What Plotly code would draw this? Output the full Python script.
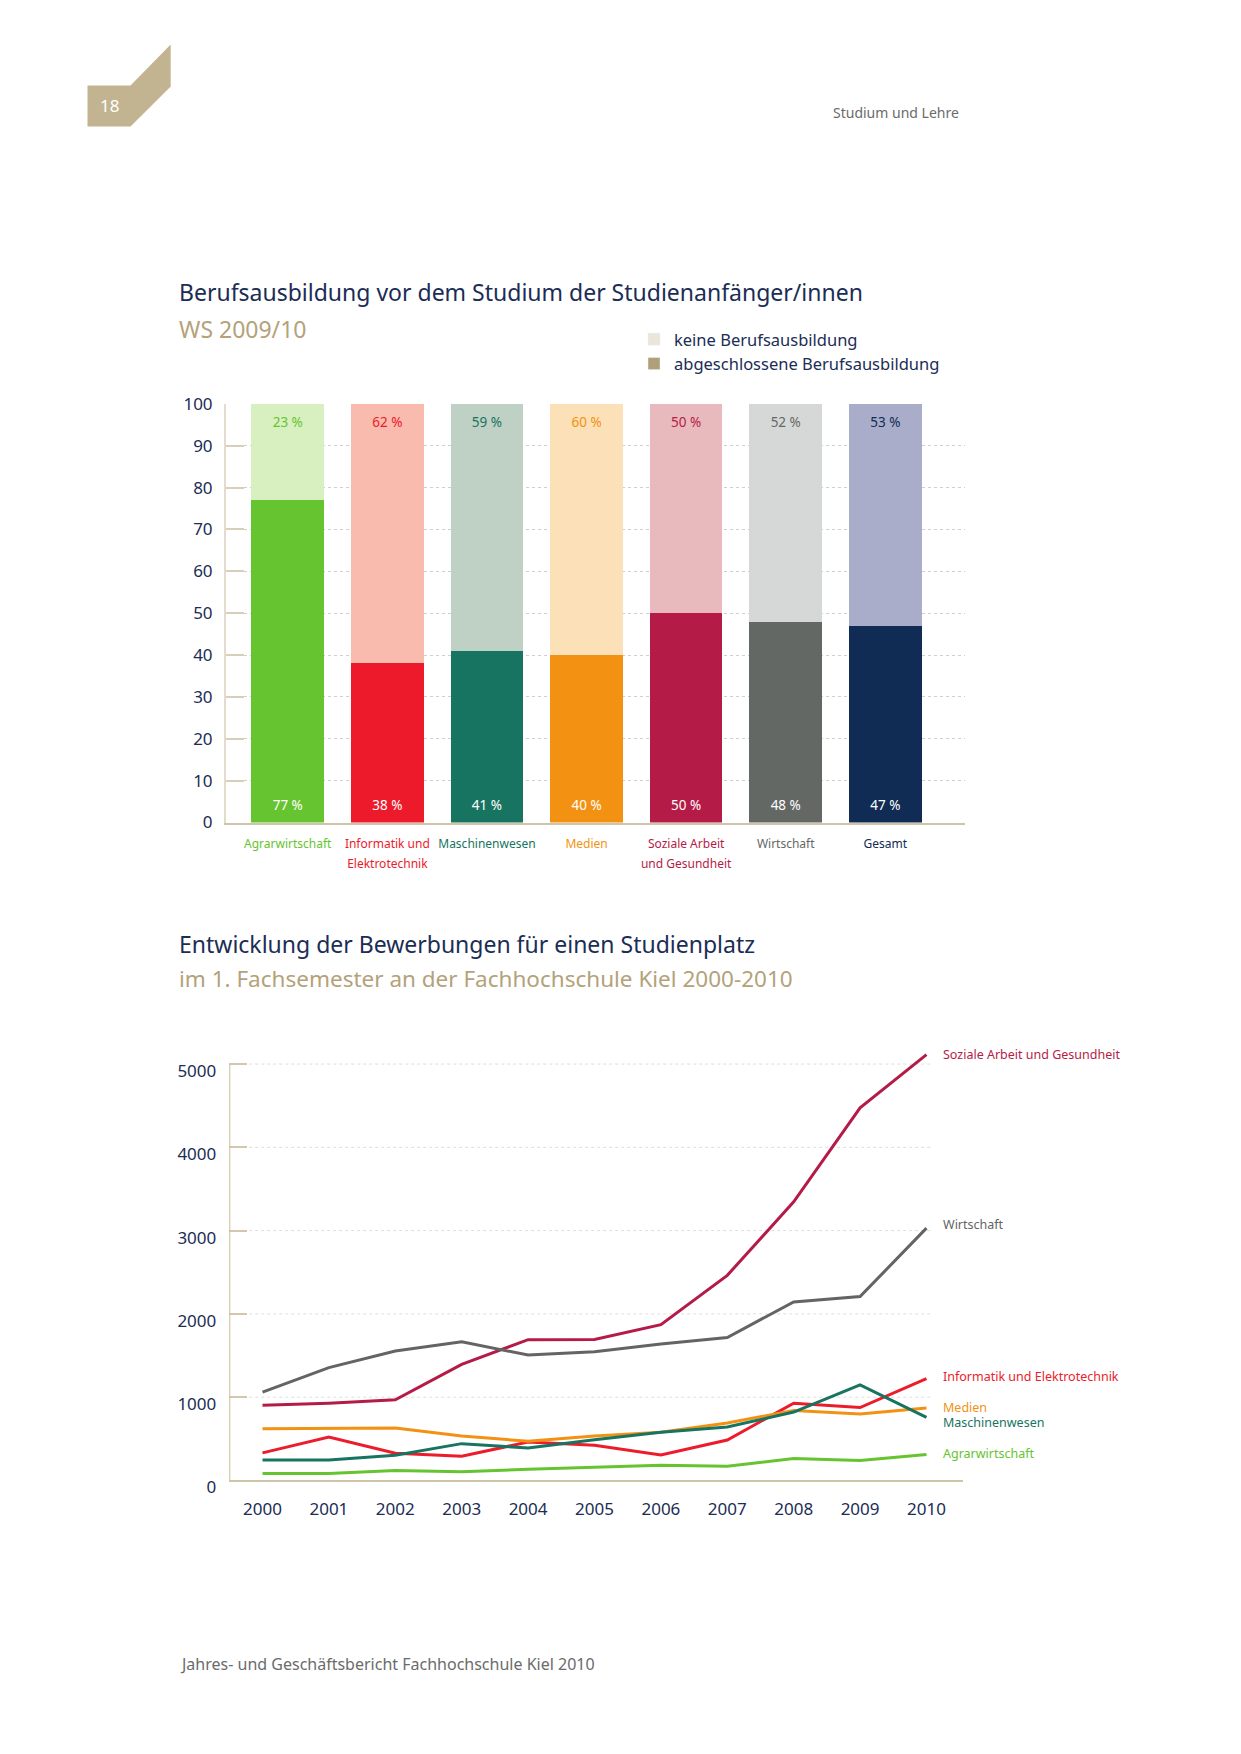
import plotly.graph_objects as go

W, H = 1241, 1754
FONT = "Noto Sans"
NAVY = "#1b2d55"
TAN = "#b3a27a"
GREY_TXT = "#6b6b6b"

# ---------------- Data: bar chart (WS 2009/10) ----------------
bar_categories = ["Agrarwirtschaft", "Informatik und<br>Elektrotechnik", "Maschinenwesen",
                  "Medien", "Soziale Arbeit<br>und Gesundheit", "Wirtschaft", "Gesamt"]
with_training = [77, 38, 41, 40, 50, 48, 47]       # abgeschlossene Berufsausbildung (%)
without_training = [23, 62, 59, 60, 50, 52, 53]    # keine Berufsausbildung (%)
bar_dark_colors = ["#66c430", "#ec1a2b", "#177461", "#f39212", "#b51b47", "#646865", "#102c54"]
bar_light_colors = ["#d8f0c0", "#f9bbad", "#bfd0c4", "#fce0b7", "#e9babd", "#d6d8d7", "#a9adc9"]
bar_ticks = [0, 10, 20, 30, 40, 50, 60, 70, 80, 90, 100]

# ---------------- Data: line chart (Bewerbungen 2000-2010) ----------------
years = [2000, 2001, 2002, 2003, 2004, 2005, 2006, 2007, 2008, 2009, 2010]
soziale = [904, 928, 968, 1394, 1690, 1693, 1870, 2463, 3346, 4475, 5113]
wirtschaft = [1060, 1355, 1554, 1665, 1506, 1546, 1639, 1717, 2144, 2208, 3030]
informatik = [331, 522, 327, 291, 462, 422, 307, 486, 928, 876, 1223]
medien = [622, 625, 629, 534, 470, 534, 578, 689, 841, 797, 869]
maschinen = [247, 247, 303, 442, 390, 490, 578, 641, 821, 1147, 757]
agrar = [84, 84, 120, 104, 135, 155, 183, 171, 263, 239, 311]
line_series = [
    ("Soziale Arbeit und Gesundheit", soziale, "#b51b47", 0),
    ("Wirtschaft", wirtschaft, "#646464", 4),
    ("Informatik und Elektrotechnik", informatik, "#ec1c2b", 2),
    ("Medien", medien, "#f39212", 1),
    ("Maschinenwesen", maschinen, "#177461", -5),
    ("Agrarwirtschaft", agrar, "#66c430", 1),
]
line_ticks = [0, 1000, 2000, 3000, 4000, 5000]


def px(x):
    return x / W


def py(y):
    # page-pixel y -> paper fraction (calibrated for the page frame)
    return 1 - (1.01729 * y - 12.29) / H


fig = go.Figure()

# ---- bar chart ----
xs = list(range(len(bar_categories)))
fig.add_trace(go.Bar(x=xs, y=with_training, marker=dict(color=bar_dark_colors, line=dict(width=0)),
                     width=0.73, showlegend=False, hoverinfo="y", xaxis="x", yaxis="y"))
fig.add_trace(go.Bar(x=xs, y=without_training, marker=dict(color=bar_light_colors, line=dict(width=0)),
                     width=0.73, showlegend=False, hoverinfo="y", xaxis="x", yaxis="y"))
# value labels
fig.add_trace(go.Scatter(x=xs, y=[3.8] * len(xs), mode="text",
                         text=[f"{v} %" for v in with_training],
                         textfont=dict(family=FONT, size=13.5, color="white"),
                         showlegend=False, hoverinfo="skip", cliponaxis=False, xaxis="x", yaxis="y"))
fig.add_trace(go.Scatter(x=xs, y=[95.3] * len(xs), mode="text",
                         text=[f"{v} %" for v in without_training],
                         textfont=dict(family=FONT, size=13.5, color=bar_dark_colors),
                         showlegend=False, hoverinfo="skip", cliponaxis=False, xaxis="x", yaxis="y"))
# legend entries
fig.add_trace(go.Bar(x=[None], y=[None], name="keine Berufsausbildung", marker_color="#ece6da",
                     legendgroup="a", xaxis="x", yaxis="y"))
fig.add_trace(go.Bar(x=[None], y=[None], name="abgeschlossene Berufsausbildung", marker_color="#b09f78",
                     legendgroup="b", xaxis="x", yaxis="y"))

# ---- line chart ----
for name, vals, color, yshift in line_series:
    fig.add_trace(go.Scatter(x=years, y=vals, mode="lines", name=name,
                             line=dict(color=color, width=3), showlegend=False,
                             xaxis="x2", yaxis="y2"))

ticktext = [f'<span style="font-size:12px;color:{c}">{t}</span>'
            for t, c in zip(bar_categories, bar_dark_colors)]

fig.update_layout(
    width=W, height=H, margin=dict(l=0, r=0, t=0, b=0),
    paper_bgcolor="white", plot_bgcolor="white",
    font=dict(family=FONT, color=NAVY),
    barmode="stack",
    showlegend=True,
    legend=dict(x=px(634), y=py(322), xanchor="left", yanchor="top",
                font=dict(family=FONT, size=16.5, color=NAVY), tracegroupgap=7,
                bgcolor="rgba(0,0,0,0)", traceorder="normal"),
    xaxis=dict(domain=[px(226), px(965)], range=[-0.62, 6.8],
               tickvals=xs, ticktext=ticktext, tickfont=dict(size=15.4, family=FONT),
               showline=True, linecolor="#cfc4a8", linewidth=2, showgrid=False,
               ticks="", zeroline=False, ticklabelstandoff=5, fixedrange=True),
    yaxis=dict(domain=[py(822.7), py(404)], range=[0, 100], tickvals=bar_ticks,
               tickfont=dict(size=17, family=FONT, color=NAVY),
               showline=True, linecolor="#e3dccc", linewidth=2,
               ticks="inside", ticklen=18, tickcolor="#d8cfb8", tickwidth=2,
               showgrid=True, gridcolor="#d0d0d0", griddash="dot", gridwidth=1,
               zeroline=False, ticklabelstandoff=8, fixedrange=True),
    xaxis2=dict(domain=[px(229.3), px(963)], range=[1999.5, 2010.55], anchor="y2",
                tickvals=years, tickfont=dict(size=17, family=FONT, color=NAVY),
                showline=True, linecolor="#cfc4a8", linewidth=2, showgrid=False,
                ticks="", zeroline=False, ticklabelstandoff=12, fixedrange=True),
    yaxis2=dict(domain=[py(1480.7), py(1047.6)], range=[0, 5200], anchor="x2",
                tickvals=line_ticks, tickfont=dict(size=17, family=FONT, color=NAVY),
                showline=False, ticks="inside", ticklen=18, tickcolor="#d3c8ad", tickwidth=2,
                showgrid=False, zeroline=False, ticklabelstandoff=12, ticklabelshift=7,
                fixedrange=True),
)

shapes = []
# header tab
pts = [(87.5, 85.7), (130.5, 85.7), (170.7, 44.5), (170.7, 86.7), (130.5, 126.7), (87.5, 126.7)]
path = "M " + " L ".join(f"{px(x)},{py(y)}" for x, y in pts) + " Z"
shapes.append(dict(type="path", xref="paper", yref="paper", path=path,
                   fillcolor="#c2b490", line=dict(width=0), layer="below"))
# line chart y axis line and gridlines
shapes.append(dict(type="line", xref="x2", yref="y2", x0=1999.5, x1=1999.5, y0=0, y1=5000,
                   line=dict(color="#c9bc9c", width=2)))
for t in line_ticks[1:]:
    shapes.append(dict(type="line", xref="x2", yref="y2", x0=1999.8, x1=2010.1, y0=t, y1=t,
                       line=dict(color="#dddddd", width=1, dash="dot"), layer="below"))
fig.update_layout(shapes=shapes)

ann = []
ann.append(dict(text="18", x=px(110), y=py(106), xref="paper", yref="paper", showarrow=False,
                font=dict(family=FONT, size=17, color="white"), xanchor="center", yanchor="middle"))
ann.append(dict(text="Studium und Lehre", x=px(961), y=py(113), xref="paper", yref="paper",
                showarrow=False, font=dict(family=FONT, size=14, color=GREY_TXT),
                xanchor="right", yanchor="middle"))
ann.append(dict(text="Berufsausbildung vor dem Studium der Studienanfänger/innen", x=px(177), y=py(292),
                xref="paper", yref="paper", showarrow=False,
                font=dict(family=FONT, size=23, color=NAVY), xanchor="left", yanchor="middle"))
ann.append(dict(text="WS 2009/10", x=px(177), y=py(329), xref="paper", yref="paper", showarrow=False,
                font=dict(family=FONT, size=23, color=TAN), xanchor="left", yanchor="middle"))
ann.append(dict(text="Entwicklung der Bewerbungen für einen Studienplatz", x=px(177), y=py(944),
                xref="paper", yref="paper", showarrow=False,
                font=dict(family=FONT, size=23, color=NAVY), xanchor="left", yanchor="middle"))
ann.append(dict(text="im 1. Fachsemester an der Fachhochschule Kiel 2000-2010", x=px(177), y=py(979),
                xref="paper", yref="paper", showarrow=False,
                font=dict(family=FONT, size=22.5, color=TAN), xanchor="left", yanchor="middle"))
ann.append(dict(text="Jahres- und Geschäftsbericht Fachhochschule Kiel 2010", x=px(178), y=py(1664),
                xref="paper", yref="paper", showarrow=False,
                font=dict(family=FONT, size=16, color=GREY_TXT), xanchor="left", yanchor="middle"))
for name, vals, color, yshift in line_series:
    ann.append(dict(text=name, x=years[-1], y=vals[-1], xref="x2", yref="y2", showarrow=False,
                    xshift=15, yshift=yshift, xanchor="left", yanchor="middle",
                    font=dict(family=FONT, size=12.5, color=color)))
fig.update_layout(annotations=ann)

fig.write_html("out.html", config={"displayModeBar": False},
               post_script="document.body.style.margin='0';")
